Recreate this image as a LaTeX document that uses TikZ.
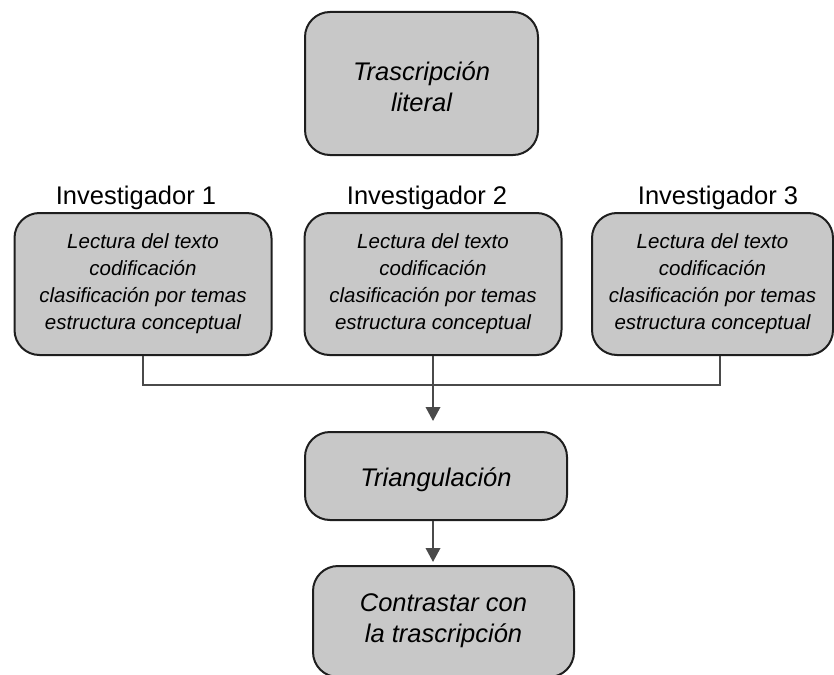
\documentclass[tikz,border=0pt]{standalone}
\usepackage{fontspec}
\setmainfont{Liberation Sans}
\usetikzlibrary{arrows.meta}
\definecolor{boxfill}{HTML}{C8C8C8}
\definecolor{boxline}{HTML}{1E1E1E}
\definecolor{conn}{HTML}{4A4A4A}
\tikzset{
  bigbox/.style={draw=boxline, fill=boxfill, line width=2pt, rounded corners=25pt,
    inner sep=0pt},
  bigtext/.style={align=center, inner sep=0pt, font=\fontsize{25.5}{31.5}\selectfont\itshape},
  invbox/.style={draw=boxline, fill=boxfill, line width=2pt, rounded corners=25pt,
    align=center, inner sep=0pt, minimum width=257pt, minimum height=142pt,
    font=\fontsize{20.5}{27}\selectfont\itshape},
  lab/.style={inner sep=0pt, font=\fontsize{25.5}{30}\selectfont},
  conline/.style={draw=conn, line width=2pt},
  conarrow/.style={conline, -{Triangle[width=14.5pt,length=14pt]}},
}
\begin{document}
\begin{tikzpicture}[x=1pt,y=-1pt]
\useasboundingbox (0,0) rectangle (834,674);
\node[bigbox, minimum width=233pt, minimum height=143pt] (top) at (421.5,83.5) {};
\node[bigtext] (topt) at ([yshift=-3pt]top.center) {Trascripción\\literal};

\node[lab] (l1) at (136,198) {Investigador 1};
\node[lab] (l2) at (427,198) {Investigador 2};
\node[lab] (l3) at (718,198) {Investigador 3};

\node[invbox] (A) at (143,284) {Lectura del texto\\codificación\\clasificación por temas\\estructura conceptual};
\node[invbox] (B) at (433,284) {Lectura del texto\\codificación\\clasificación por temas\\estructura conceptual};
\node[invbox, minimum width=241pt] (C) at (712.5,284) {Lectura del texto\\codificación\\clasificación por temas\\estructura conceptual};

\node[bigbox, minimum width=262pt, minimum height=88pt] (T) at (436,476) {};
\node[bigtext] (Tt) at ([yshift=-4pt]T.center) {Triangulación};
\node[bigbox, minimum width=261pt, minimum height=111pt] (K) at (443.5,621.5) {};
\node[bigtext] (Kt) at ([yshift=1pt]K.center) {Contrastar con\\la trascripción};

\coordinate (j) at (433,385);
\coordinate (cx) at (720,385);

\draw[conline] (A.south) |- (j) -- (cx) -- (cx |- C.south);
\draw[conline] (B.south) -- (j);
\draw[conarrow, shorten >=10pt] (j) -- (j |- T.north);
\draw[conarrow, shorten >=3pt] (T.south -| j) -- (j |- K.north);
\end{tikzpicture}
\end{document}
